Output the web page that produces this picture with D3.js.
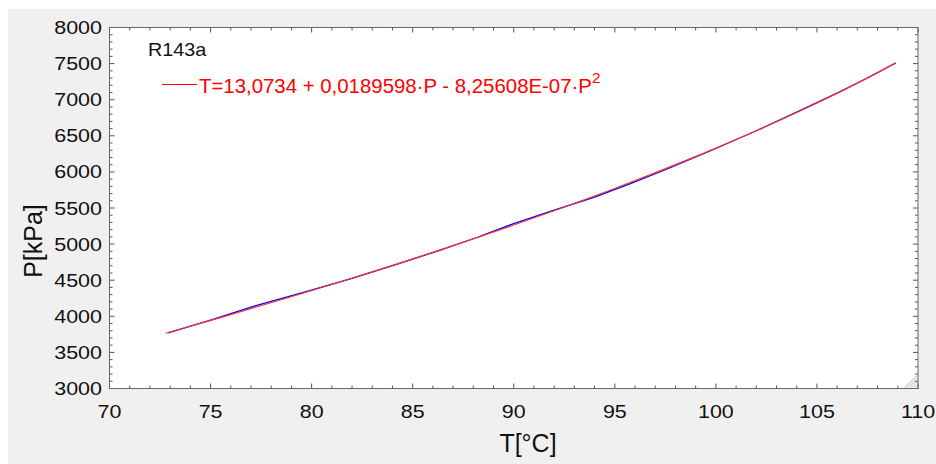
<!DOCTYPE html>
<html><head><meta charset="utf-8">
<script src="https://cdn.jsdelivr.net/npm/d3@7"></script>
<style>body{margin:0;background:#fff;}svg{display:block;font-family:"Liberation Sans",Arial,sans-serif;}</style>
</head><body><svg id="c" width="936" height="464"></svg>
<script>
const xTicks = [70,75,80,85,90,95,100,105,110];
const yTicks = [3000,3500,4000,4500,5000,5500,6000,6500,7000,7500,8000];
// measured data (blue)
const dataT = [72.9, 75.0, 77.2, 79.6, 82.0, 84.2, 86.3, 88.2, 90.0, 92.0, 94.0, 95.8, 97.5, 99.8, 102.0, 104.0, 106.0, 107.5, 108.9];
const dataP = [3772, 3948, 4145, 4330, 4525, 4720, 4910, 5095, 5285, 5470, 5650, 5840, 6030, 6300, 6570, 6830, 7090, 7300, 7508];
// fitted curve (red)
const fitP = [3765, 4000, 4250, 4500, 4750, 5000, 5250, 5500, 5750, 6000, 6250, 6500, 6750, 7000, 7250, 7510];
const fitT = [72.78, 75.70, 78.74, 81.67, 84.51, 87.23, 89.86, 92.38, 94.80, 97.11, 99.32, 101.43, 103.44, 105.34, 107.14, 108.90];

const svg = d3.select('#c');
svg.append('rect').attr('x',8).attr('y',9).attr('width',928).attr('height',455).attr('fill','#f0f0f0');
const L=109.5, R=918, T=27.5, B=388.5;
const x = d3.scaleLinear().domain([70,110]).range([L,R]);
const y = d3.scaleLinear().domain([3000,8000]).range([B,T]);
svg.append('rect').attr('x',L).attr('y',T).attr('width',R-L).attr('height',B-T).attr('fill','#fff');

const g = svg.append('g');
const xMinor = d3.range(70,110.001,1);
const yMinor = d3.range(3000,8000.1,100);
const tickCol = '#555';
xMinor.forEach(v=>{
  const major = v%5===0; const len = major?5:3;
  g.append('line').attr('x1',x(v)).attr('x2',x(v)).attr('y1',B).attr('y2',B-len).attr('stroke',tickCol);
  g.append('line').attr('x1',x(v)).attr('x2',x(v)).attr('y1',T).attr('y2',T+len).attr('stroke',tickCol);
});
yMinor.forEach(v=>{
  const major = v%500===0; const len = major?5:3;
  g.append('line').attr('x1',L).attr('x2',L+len).attr('y1',y(v)).attr('y2',y(v)).attr('stroke',tickCol);
  g.append('line').attr('x1',R).attr('x2',R-len).attr('y1',y(v)).attr('y2',y(v)).attr('stroke',tickCol);
});
svg.append('rect').attr('x',L).attr('y',T).attr('width',R-L).attr('height',B-T).attr('fill','none').attr('stroke','#666').attr('stroke-width',1);

function txt(xp, yp, s, size, sx, anchor, fill){
  return svg.append('text').attr('transform',`translate(${xp},${yp}) scale(${sx},1)`)
    .attr('text-anchor',anchor).attr('font-size',size).attr('fill',fill||'#111').text(s);
}
xTicks.forEach(v=> txt(x(v), 418, v, 19, 1.13, 'middle'));
yTicks.forEach(v=> txt(102, y(v)+6.5, v, 19, 1.13, 'end'));
txt(528, 452, 'T[°C]', 25, 1.0, 'middle');
svg.append('text').attr('transform','translate(42,241) rotate(-90)').attr('text-anchor','middle').attr('font-size',25).attr('fill','#111').text('P[kPa]');

// resize grip
[0,1,2,3].forEach(i=>{
  const o = 3+i*3;
  svg.append('line').attr('x1',R-1-o).attr('y1',B-1).attr('x2',R-1).attr('y2',B-1-o).attr('stroke','#999').attr('stroke-width',0.8);
});

const line = d3.line().x(d=>x(d[0])).y(d=>y(d[1]));
svg.append('path').datum(dataT.map((t,i)=>[t,dataP[i]])).attr('d',line).attr('fill','none').attr('stroke','#0000ff').attr('stroke-width',1.3);
const curve = d3.line().x(d=>x(d[0])).y(d=>y(d[1])).curve(d3.curveMonotoneX);
svg.append('path').datum(fitT.map((t,i)=>[t,fitP[i]])).attr('d',curve).attr('fill','none').attr('stroke','#ff3030').attr('stroke-width',1.2);

txt(148, 56, 'R143a', 18, 1.1, 'start');
svg.append('line').attr('x1',162).attr('x2',197).attr('y1',84.5).attr('y2',84.5).attr('stroke','#ff0000');
const lt = txt(199, 93, '', 20, 1.02, 'start', '#ff0000');
lt.append('tspan').text('T=13,0734 + 0,0189598·P - 8,25608E-07·P');
lt.append('tspan').attr('dy',-10).attr('font-size',15).text('2');
</script></body></html>
